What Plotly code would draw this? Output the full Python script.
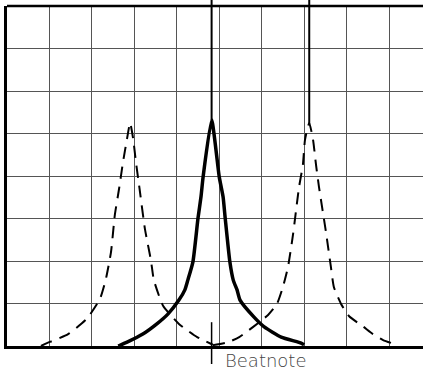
import plotly.graph_objects as go

# Grid units: x in divisions (0..~9.8), y in divisions (0..8)
left_x = [0.80, 0.90, 1.44, 1.88, 2.19, 2.33, 2.45, 2.54, 2.64, 2.73, 2.83, 2.90,
          2.97, 3.04, 3.12, 3.25, 3.39, 3.46, 3.68, 4.05, 4.48, 4.85]
left_y = [0.00, 0.05, 0.28, 0.64, 1.11, 1.58, 2.21, 3.08, 3.70, 4.31, 4.89, 5.25,
          4.89, 4.31, 3.72, 2.75, 2.02, 1.55, 0.94, 0.52, 0.21, 0.03]

right_x = [4.85, 5.21, 5.47, 5.80, 6.15, 6.36, 6.50, 6.62, 6.74, 6.88, 6.97, 7.02, 7.12,
           7.21, 7.28, 7.35, 7.52, 7.63, 7.70, 7.87, 8.06, 8.40, 8.62, 8.86, 9.20]
right_y = [0.02, 0.09, 0.21, 0.45, 0.73, 0.99, 1.39, 1.86, 2.64, 3.74, 4.26, 4.85, 5.25,
           4.85, 4.26, 3.74, 2.64, 1.86, 1.39, 0.99, 0.70, 0.45, 0.28, 0.14, 0.02]

center_x = [2.62, 2.83, 3.20, 3.53, 3.79, 4.05, 4.19, 4.26, 4.38, 4.50, 4.57, 4.62, 4.82,
            5.00, 5.09, 5.14, 5.25, 5.33, 5.42, 5.49, 5.82, 6.06, 6.46, 6.93, 7.00]
center_y = [0.00, 0.09, 0.28, 0.52, 0.75, 1.08, 1.32, 1.55, 1.98, 3.01, 3.51, 3.98, 5.32,
            3.98, 3.51, 3.01, 1.98, 1.55, 1.32, 1.08, 0.68, 0.45, 0.21, 0.07, 0.03]

beat_x = 4.82          # beat note position
beat_peak = 5.32
right_peak_x = 7.12
right_peak = 5.22
beat_label = "Beatnote"

X_MAX = 9.80
Y_MAX = 8

fig = go.Figure()
fig.add_trace(go.Scatter(x=left_x, y=left_y, mode="lines",
                         line=dict(color="black", width=2, dash="12px,8px",
                                   shape="spline", smoothing=0.5)))
fig.add_trace(go.Scatter(x=right_x, y=right_y, mode="lines",
                         line=dict(color="black", width=2, dash="12px,8px",
                                   shape="spline", smoothing=0.5)))
fig.add_trace(go.Scatter(x=center_x, y=center_y, mode="lines",
                         line=dict(color="black", width=3.5,
                                   shape="spline", smoothing=0.5)))

shapes = [
    # top border
    dict(type="line", xref="paper", yref="paper", x0=0, x1=1, y0=1, y1=1,
         line=dict(color="black", width=2.5)),
    # marker lines from top to peaks
    dict(type="line", xref="x", yref="paper", x0=beat_x, x1=beat_x,
         y0=beat_peak / Y_MAX, y1=1.03, line=dict(color="black", width=2)),
    dict(type="line", xref="x", yref="paper", x0=right_peak_x, x1=right_peak_x,
         y0=right_peak / Y_MAX, y1=1.03, line=dict(color="black", width=2)),
    # beatnote tick below axis
    dict(type="line", xref="x", yref="paper", x0=beat_x, x1=beat_x,
         y0=0.56 / Y_MAX, y1=-0.053, line=dict(color="black", width=1.5)),
]

fig.update_layout(
    width=423, height=374,
    margin=dict(l=7, r=0, t=6, b=28),
    paper_bgcolor="white", plot_bgcolor="white",
    showlegend=False,
    hovermode=False,
    shapes=shapes,
    annotations=[dict(text=beat_label, xref="x", yref="paper", x=5.09, y=-0.044,
                      xanchor="left", yanchor="middle", showarrow=False,
                      font=dict(family="DejaVu Sans", size=18, color="#444", weight=300))],
    xaxis=dict(range=[0, X_MAX], dtick=1, tick0=0, showgrid=True, gridcolor="#555",
               gridwidth=1, showticklabels=False, ticks="", zeroline=False,
               showline=True, linecolor="black", linewidth=2.5, mirror=False),
    yaxis=dict(range=[0, Y_MAX], dtick=1, tick0=0, showgrid=True, gridcolor="#555",
               gridwidth=1, showticklabels=False, ticks="", zeroline=False,
               showline=True, linecolor="black", linewidth=2.5, mirror=False),
)

fig.write_html("out.html", config={"displayModeBar": False},
               post_script="document.body.style.margin='0';document.body.style.overflow='hidden';")
